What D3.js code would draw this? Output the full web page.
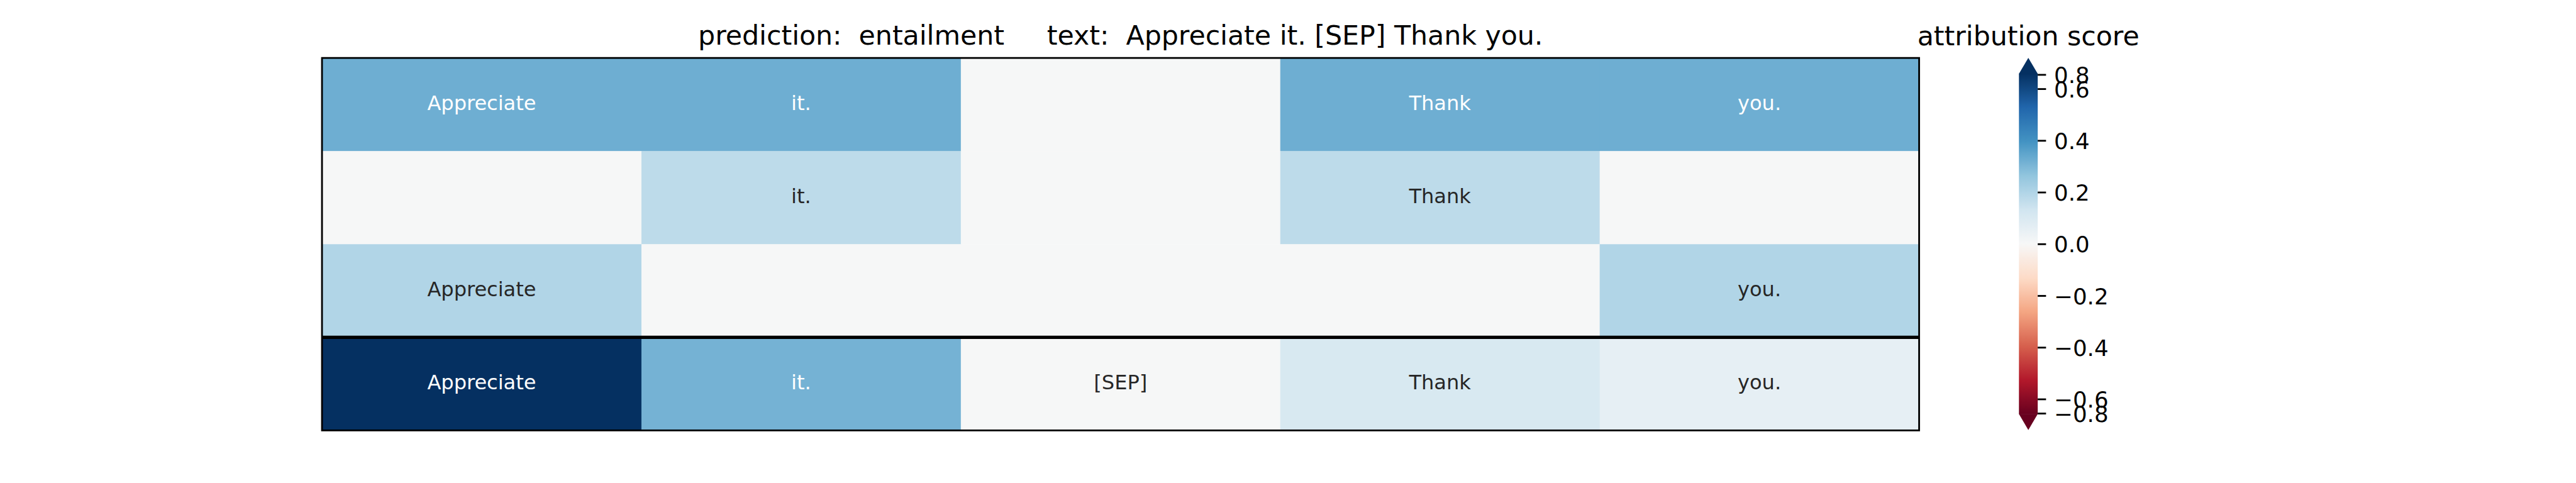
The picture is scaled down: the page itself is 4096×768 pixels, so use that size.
<!DOCTYPE html>
<html>
<head>
<meta charset="utf-8">
<script src="https://cdn.jsdelivr.net/npm/d3@7"></script>
<style>
  html, body { margin: 0; padding: 0; background: #ffffff; }
  svg { display: block; }
  text { font-family: "DejaVu Sans", sans-serif; }
</style>
</head>
<body>
<script>
// ---------------- data ----------------
const columns = ["Appreciate", "it.", "[SEP]", "Thank", "you."];
const rowIds = ["r1", "r2", "r3", "attr"];

const row1Values = [0.32, 0.32, 0.0, 0.32, 0.32];
const row2Values = [0.0, 0.17, 0.0, 0.17, 0.0];
const row3Values = [0.20, 0.0, 0.0, 0.0, 0.20];
const row4Values = [0.68, 0.31, 0.0, 0.105, 0.06];

const row1Labels = ["Appreciate", "it.", "", "Thank", "you."];
const row2Labels = ["", "it.", "", "Thank", ""];
const row3Labels = ["Appreciate", "", "", "", "you."];
const row4Labels = ["Appreciate", "it.", "[SEP]", "Thank", "you."];

const titleText = "prediction:  entailment     text:  Appreciate it. [SEP] Thank you.";
const colorbarTitle = "attribution score";

const colorLimit = 0.659;
const cbTickValues = [0.655, 0.6, 0.4, 0.2, 0.0, -0.2, -0.4, -0.6, -0.655];
const cbTickLabels = ["0.8", "0.6", "0.4", "0.2", "0.0", "\u22120.2", "\u22120.4", "\u22120.6", "\u22120.8"];

// matplotlib RdBu (colorbrewer) anchor colours
const rdbuColors = ["#67001f", "#b2182b", "#d6604d", "#f4a582", "#fddbc7", "#f7f7f7",
                    "#d1e5f0", "#92c5de", "#4393c3", "#2166ac", "#053061"];

// ---------------- layout (reference pixel units) ----------------
const W = 4800, H = 900;
const plot = { left: 600, right: 3576, top: 108, bottom: 802 };
const cb = { left: 3762, width: 35, top: 137, bottom: 772, extendFrac: 0.046 };

const svg = d3.select("body").append("svg")
  .attr("width", 4096).attr("height", 768)
  .attr("viewBox", `0 0 ${W} ${H}`);

svg.append("rect").attr("width", W).attr("height", H).attr("fill", "#ffffff");

const cmap = d3.scaleLinear()
  .domain(d3.range(rdbuColors.length).map(i => i / (rdbuColors.length - 1)))
  .range(rdbuColors)
  .interpolate(d3.interpolateRgb);
const norm = d3.scaleLinear().domain([-colorLimit, colorLimit]).range([0, 1]);
function colorFor(v) {
  // 256-level lookup like matplotlib
  const t = norm(v);
  let idx = Math.floor(t * 256);
  idx = Math.max(0, Math.min(255, idx));
  return cmap(idx / 255);
}
function luminance(c) {
  const rgb = d3.rgb(c);
  const lin = x => { x /= 255; return x <= 0.03928 ? x / 12.92 : Math.pow((x + 0.055) / 1.055, 2.4); };
  return 0.2126 * lin(rgb.r) + 0.7152 * lin(rgb.g) + 0.0722 * lin(rgb.b);
}

const allValues = [row1Values, row2Values, row3Values, row4Values];
const allLabels = [row1Labels, row2Labels, row3Labels, row4Labels];
const cells = [];
allValues.forEach((vals, r) => vals.forEach((v, c) => cells.push({ r, c, v, label: allLabels[r][c] })));

const x = d3.scaleBand().domain(d3.range(columns.length)).range([plot.left, plot.right]);
const y = d3.scaleBand().domain(d3.range(rowIds.length)).range([plot.top, plot.bottom]);

const g = svg.append("g");
g.selectAll("rect.cell").data(cells).enter().append("rect")
  .attr("class", "cell")
  .attr("x", d => x(d.c)).attr("y", d => y(d.r))
  .attr("width", x.bandwidth() + 0.5).attr("height", y.bandwidth() + 0.5)
  .attr("fill", d => colorFor(d.v));

const cellFont = 37.5;
g.selectAll("text.annot").data(cells.filter(d => d.label !== "")).enter().append("text")
  .attr("class", "annot")
  .attr("x", d => x(d.c) + x.bandwidth() / 2)
  .attr("y", d => y(d.r) + y.bandwidth() / 2)
  .attr("dy", "0.26em")
  .attr("text-anchor", "middle")
  .attr("font-size", cellFont)
  .attr("fill", d => luminance(colorFor(d.v)) > 0.408 ? "#262626" : "#ffffff")
  .text(d => d.label);

// separator between explanation rows and attribution row
g.append("line")
  .attr("x1", plot.left).attr("x2", plot.right)
  .attr("y1", y(3)).attr("y2", y(3))
  .attr("stroke", "#000").attr("stroke-width", 6);

// frame
g.append("rect")
  .attr("x", plot.left).attr("y", plot.top)
  .attr("width", plot.right - plot.left).attr("height", plot.bottom - plot.top)
  .attr("fill", "none").attr("stroke", "#000").attr("stroke-width", 3.3);

// title
svg.append("text")
  .attr("x", (plot.left + plot.right) / 2).attr("y", 83.5)
  .attr("text-anchor", "middle")
  .attr("font-size", 50)
  .attr("xml:space", "preserve")
  .style("white-space", "pre")
  .attr("fill", "#000")
  .text(titleText);

// ---------------- colorbar ----------------
const cbY = d3.scaleLinear().domain([-colorLimit, colorLimit]).range([cb.bottom, cb.top]);
const defs = svg.append("defs");
const grad = defs.append("linearGradient").attr("id", "cbgrad")
  .attr("x1", 0).attr("y1", 1).attr("x2", 0).attr("y2", 0);
d3.range(256).forEach(i => {
  grad.append("stop").attr("offset", i / 255).attr("stop-color", cmap(i / 255));
});
const cbg = svg.append("g");
cbg.append("rect")
  .attr("x", cb.left).attr("y", cbY(colorLimit))
  .attr("width", cb.width).attr("height", cbY(-colorLimit) - cbY(colorLimit))
  .attr("fill", "url(#cbgrad)");
const extLen = (cbY(-colorLimit) - cbY(colorLimit)) * cb.extendFrac;
const topPath = d3.path();
topPath.moveTo(cb.left, cbY(colorLimit) + 0.5);
topPath.lineTo(cb.left + cb.width / 2, cbY(colorLimit) - extLen);
topPath.lineTo(cb.left + cb.width, cbY(colorLimit) + 0.5);
topPath.closePath();
cbg.append("path").attr("d", topPath.toString()).attr("fill", cmap(1));
const botPath = d3.path();
botPath.moveTo(cb.left, cbY(-colorLimit) - 0.5);
botPath.lineTo(cb.left + cb.width / 2, cbY(-colorLimit) + extLen);
botPath.lineTo(cb.left + cb.width, cbY(-colorLimit) - 0.5);
botPath.closePath();
cbg.append("path").attr("d", botPath.toString()).attr("fill", cmap(0));

const cbAxis = d3.axisRight(cbY)
  .tickValues(cbTickValues)
  .tickFormat((d, i) => cbTickLabels[i])
  .tickSize(15.5)
  .tickPadding(15);
const axG = cbg.append("g")
  .attr("transform", `translate(${cb.left + cb.width},0)`)
  .call(cbAxis);
axG.select(".domain").remove();
axG.selectAll(".tick line").attr("stroke", "#000").attr("stroke-width", 3.3);
axG.selectAll(".tick text")
  .attr("font-family", "DejaVu Sans")
  .attr("font-size", 41.7)
  .attr("fill", "#000")
  .attr("dy", "0.37em");

svg.append("text")
  .attr("x", cb.left + cb.width / 2).attr("y", 84)
  .attr("text-anchor", "middle")
  .attr("font-size", 50)
  .attr("fill", "#000")
  .text(colorbarTitle);
</script>
</body>
</html>
